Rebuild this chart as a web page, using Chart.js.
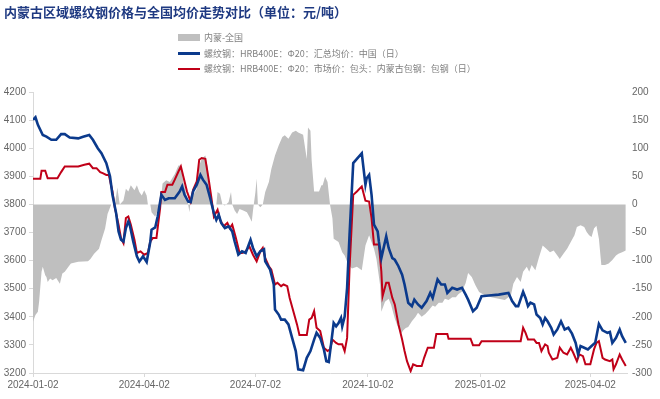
<!DOCTYPE html>
<html>
<head>
<meta charset="utf-8">
<script src="https://cdn.jsdelivr.net/npm/chart.js@4.4.1/dist/chart.umd.min.js"></script>
<style>
html,body{margin:0;padding:0;background:#fff;}
#wrap{position:relative;width:660px;height:399px;}
#title{position:absolute;left:4px;top:4px;font:bold 13px "Noto Sans CJK SC";line-height:16px;color:#1f3a82;white-space:nowrap;}
#legend{position:absolute;left:178px;top:30px;font:9px "Noto Sans CJK SC";color:#808080;}
.item{display:flex;align-items:center;height:15.5px;white-space:nowrap;}
.sw{width:22px;margin-right:4px;}
canvas{position:absolute;left:0;top:0;}
</style>
</head>
<body>
<div id="wrap">
  <canvas id="c" width="660" height="399"></canvas>
  <div id="title">内蒙古区域螺纹钢价格与全国均价走势对比（单位：元/吨）</div>
  <div id="legend"></div>
</div>
<script>
// x values are days counted from 2024-01-02
const tickLabels = ['2024-01-02','2024-04-02','2024-07-02','2024-10-02','2025-01-02','2025-04-02'];

const seriesNames = [
  '内蒙-全国',
  '螺纹钢：HRB400E：Φ20：汇总均价：中国（日）',
  '螺纹钢：HRB400E：Φ20：市场价：包头：内蒙古包钢：包钢（日）',
];

// 螺纹钢 全国汇总均价
const blueDays = [0,2,4,8,11,15,19,23,26,30,37,41,46,49,53,56,60,63,65,68,70,72,74,76,78,79,82,85,87,90,93,96,97,100,102,105,108,111,116,120,122,124,127,129,131,134,137,139,142,145,148,150,152,154,157,160,163,165,168,171,174,178,180,183,186,189,190,194,197,198,201,203,206,209,212,215,217,221,224,227,230,232,235,238,240,242,244,246,248,250,252,253,255,257,259,262,265,269,272,273,275,277,279,282,283,285,289,291,294,296,299,302,304,307,310,312,315,318,322,325,327,331,334,337,339,343,347,351,354,356,360,363,367,373,381,389,392,395,397,401,403,405,407,410,412,415,417,419,421,424,426,429,432,435,438,441,444,446,448,451,454,457,460,463,466,470,472,474,477,480,482,485];
const blueVals = [4101,4110,4083,4047,4041,4030,4030,4050,4050,4038,4035,4041,4047,4030,4000,3982,3947,3900,3834,3769,3704,3674,3668,3716,3739,3730,3668,3615,3597,3615,3595,3668,3710,3718,3757,3834,3816,3822,3822,3846,3864,3834,3810,3808,3846,3870,3905,3888,3870,3822,3769,3745,3763,3734,3716,3722,3704,3668,3621,3633,3627,3674,3645,3615,3633,3640,3597,3568,3515,3426,3408,3390,3390,3373,3325,3278,3213,3210,3254,3278,3319,3343,3325,3284,3242,3239,3307,3378,3366,3378,3396,3366,3401,3503,3692,3947,3962,3982,3870,3893,3905,3834,3728,3704,3668,3609,3686,3645,3609,3603,3580,3550,3515,3450,3438,3461,3444,3432,3456,3485,3467,3533,3515,3515,3485,3503,3497,3503,3479,3461,3420,3432,3473,3476,3479,3485,3456,3438,3438,3489,3467,3438,3450,3444,3408,3396,3373,3396,3384,3361,3337,3355,3384,3355,3361,3340,3307,3266,3296,3290,3284,3296,3308,3375,3352,3343,3346,3307,3325,3355,3331,3307];

// 螺纹钢 包头 包钢 市场价
const redDays = [0,6,7,10,12,20,23,26,37,42,46,49,52,55,57,60,62,65,67,70,72,74,76,78,80,83,85,88,91,94,96,98,101,104,105,108,110,114,116,119,121,123,126,129,131,134,136,138,141,144,146,148,151,153,156,159,161,163,166,169,171,174,177,180,183,186,188,190,193,195,198,200,203,205,208,210,213,216,218,224,226,228,230,232,235,238,241,243,245,248,250,253,255,257,259,262,265,269,272,275,277,279,283,285,286,289,291,294,296,299,302,304,306,309,311,314,318,320,323,328,330,339,340,358,360,365,367,399,401,403,405,410,412,414,416,419,421,422,425,429,431,434,437,440,442,445,447,450,452,456,459,461,463,466,468,472,474,475,477,480,482,485];
const redVals = [3891,3891,3920,3920,3893,3893,3915,3935,3935,3941,3945,3929,3929,3915,3911,3905,3905,3846,3787,3728,3680,3662,3751,3757,3728,3674,3627,3633,3621,3627,3668,3680,3680,3787,3844,3844,3870,3870,3888,3917,3935,3899,3846,3810,3852,3882,3959,3965,3962,3882,3822,3757,3781,3745,3722,3734,3716,3728,3680,3627,3627,3633,3651,3621,3597,3633,3645,3609,3580,3568,3515,3521,3509,3515,3509,3467,3420,3373,3335,3335,3390,3396,3420,3361,3349,3290,3278,3284,3319,3307,3302,3302,3278,3325,3574,3834,3846,3864,3813,3810,3751,3657,3657,3562,3473,3521,3521,3467,3444,3373,3319,3278,3242,3207,3231,3225,3225,3254,3290,3290,3339,3339,3322,3322,3299,3299,3313,3313,3361,3343,3319,3319,3307,3307,3278,3302,3296,3272,3248,3254,3290,3272,3266,3290,3272,3242,3266,3260,3231,3231,3284,3307,3313,3254,3248,3242,3248,3213,3231,3266,3248,3225];

// 内蒙-全国 (右轴)
const diffDays = [0,2,4,5,7,8,10,11,12,14,16,19,22,24,26,29,31,37,45,47,50,54,56,59,61,64,67,69,71,74,76,78,80,83,85,87,89,91,93,94,96,97,100,102,105,106,109,112,116,119,121,123,126,128,129,131,134,136,138,141,143,145,147,150,151,153,155,157,160,162,163,165,167,169,172,175,177,179,180,182,183,184,186,188,190,193,195,198,201,204,206,209,212,215,217,221,224,225,227,228,230,234,236,237,239,241,243,245,246,250,253,255,258,261,265,269,272,275,277,279,281,284,285,288,291,293,296,298,301,303,305,307,310,313,315,318,321,324,327,329,332,335,337,340,343,346,348,351,354,356,359,362,365,370,375,381,386,391,393,396,399,401,404,406,408,411,414,417,420,423,426,429,431,434,437,440,443,445,448,451,453,455,457,459,461,463,465,468,471,474,477,479,482,485];
const diffVals = [-209,-197,-191,-173,-120,-111,-126,-129,-138,-132,-135,-131,-141,-123,-120,-111,-105,-102,-101,-97,-88,-79,-64,-43,-17,0,0,30,0,7,28,23,34,25,34,22,16,25,16,0,0,-14,-22,-11,16,37,43,40,54,69,69,40,13,-14,7,16,28,69,81,87,66,16,0,0,22,19,0,-2,4,22,0,-11,-17,-8,-11,-14,-22,-31,-11,22,46,0,-5,0,22,40,63,87,105,120,123,117,128,131,128,124,81,137,131,78,23,23,34,34,49,40,0,-25,-61,-67,-85,-91,-108,-114,-111,-117,-73,-55,-67,-79,-97,-144,-191,-173,-168,-179,-203,-215,-230,-224,-220,-218,-208,-200,-193,-200,-195,-188,-180,-182,-175,-175,-168,-170,-165,-165,-160,-155,-140,-122,-129,-144,-156,-162,-165,-168,-170,-162,-141,-129,-138,-120,-111,-120,-108,-117,-94,-73,-79,-85,-82,-91,-97,-88,-79,-67,-55,-40,-37,-40,-49,-55,-58,-43,-38,-61,-108,-108,-105,-99,-91,-88,-85,-82];

const leftTicks = { min: 3200, max: 4200, step: 100 };
const rightTicks = { min: -300, max: 200, step: 50 };

const DAY = 86400000;
const tickDays = tickLabels.map(s => Math.round((Date.parse(s) - Date.parse(tickLabels[0])) / DAY));
const pts = (days, vals) => days.map((d, i) => ({ x: d, y: vals[i] }));

const GRAY = '#bfbfbf', BLUE = '#0b3a8c', RED = '#c00018';
const tickFont = { family: 'Liberation Sans, Arial, sans-serif', size: 10 };
const plain = (v) => String(v);

// legend drawn as html so the three rows stack like the original
const legendEl = document.getElementById('legend');
const swatches = [
  `<span class="sw" style="height:7px;background:${GRAY}"></span>`,
  `<span class="sw" style="height:3px;background:${BLUE}"></span>`,
  `<span class="sw" style="height:2.5px;background:${RED}"></span>`,
];
legendEl.innerHTML = seriesNames.map((n, i) => `<div class="item">${swatches[i]}<span>${n}</span></div>`).join('');

new Chart(document.getElementById('c'), {
  type: 'line',
  data: {
    datasets: [
      {
        label: seriesNames[0],
        data: pts(diffDays, diffVals),
        yAxisID: 'y1',
        fill: 'origin',
        backgroundColor: GRAY,
        borderWidth: 0,
        pointRadius: 0,
        tension: 0,
        order: 3,
      },
      {
        label: seriesNames[1],
        data: pts(blueDays, blueVals),
        yAxisID: 'y',
        borderColor: BLUE,
        borderWidth: 2.6,
        pointRadius: 0,
        tension: 0,
        fill: false,
        order: 1,
      },
      {
        label: seriesNames[2],
        data: pts(redDays, redVals),
        yAxisID: 'y',
        borderColor: RED,
        borderWidth: 2,
        pointRadius: 0,
        tension: 0,
        fill: false,
        order: 2,
      },
    ],
  },
  options: {
    responsive: false,
    animation: false,
    layout: { padding: { top: 92, left: 0, right: 0, bottom: 0 } },
    plugins: { legend: { display: false }, tooltip: { enabled: false } },
    scales: {
      x: {
        type: 'linear',
        min: 0,
        max: 486,
        afterBuildTicks: (s) => { s.ticks = tickDays.map(v => ({ value: v })); },
        afterFit: (s) => { s.height = 26; },
        ticks: {
          autoSkip: false,
          maxRotation: 0,
          padding: 2,
          color: '#666',
          font: tickFont,
          callback: (v) => tickLabels[tickDays.indexOf(v)] ?? '',
        },
        grid: { drawOnChartArea: false, tickLength: 4, color: '#d9d9d9' },
        border: { color: '#d9d9d9' },
      },
      y: {
        position: 'left',
        min: leftTicks.min,
        max: leftTicks.max,
        afterFit: (s) => { s.width = 33; },
        ticks: { stepSize: leftTicks.step, padding: 3, color: '#666', font: tickFont, callback: plain },
        grid: { drawOnChartArea: false, tickLength: 4, color: '#d9d9d9' },
        border: { color: '#d9d9d9' },
      },
      y1: {
        position: 'right',
        min: rightTicks.min,
        max: rightTicks.max,
        afterFit: (s) => { s.width = 33; },
        ticks: { stepSize: rightTicks.step, padding: 5, color: '#666', font: tickFont, callback: plain },
        grid: { display: false, drawTicks: false },
        border: { display: false },
      },
    },
  },
});
</script>
</body>
</html>
